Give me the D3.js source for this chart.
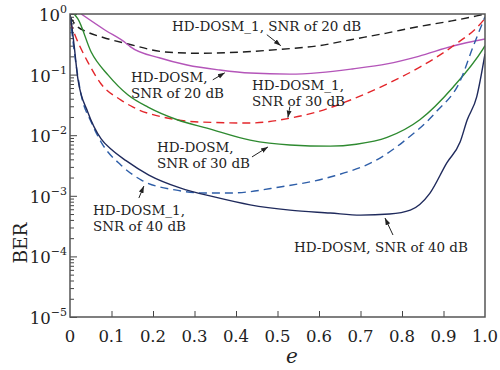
<!DOCTYPE html>
<html>
<head>
<meta charset="utf-8">
<script src="https://cdn.jsdelivr.net/npm/d3@7"></script>
<style>
body{margin:0;background:#fff;}
svg text{font-family:"DejaVu Serif","Liberation Serif",serif;fill:#222;}
</style>
</head>
<body>
<svg id="chart" width="500" height="370"></svg>
<script>
// values (e on x, BER on log y)
const eDosm1_20 = [0, 0.012, 0.043, 0.08, 0.14, 0.23, 0.31, 0.41, 0.51, 0.6, 0.68, 0.76, 0.84, 0.92, 0.98, 1.0];
const berDosm1_20 = [0.9, 0.68, 0.5, 0.41, 0.32, 0.236, 0.225, 0.235, 0.262, 0.3, 0.38, 0.48, 0.62, 0.77, 0.93, 1.0];

const eDosm_20 = [0.027, 0.084, 0.135, 0.145, 0.217, 0.282, 0.361, 0.434, 0.53, 0.602, 0.68, 0.764, 0.84, 0.923, 1.0];
const berDosm_20 = [1.0, 0.545, 0.33, 0.29, 0.188, 0.144, 0.119, 0.106, 0.102, 0.108, 0.124, 0.15, 0.2, 0.296, 0.386];

const eDosm1_30 = [0, 0.012, 0.043, 0.075, 0.123, 0.152, 0.234, 0.313, 0.434, 0.53, 0.602, 0.682, 0.764, 0.843, 0.923, 0.995, 1.0];
const berDosm1_30 = [0.75, 0.45, 0.161, 0.07, 0.038, 0.029, 0.0192, 0.0165, 0.0159, 0.0191, 0.025, 0.0396, 0.07, 0.133, 0.296, 0.77, 0.85];

const eDosm_30 = [0.01, 0.019, 0.051, 0.092, 0.14, 0.188, 0.26, 0.33, 0.434, 0.53, 0.627, 0.69, 0.764, 0.843, 0.923, 0.995, 1.0];
const berDosm_30 = [1.0, 0.83, 0.236, 0.098, 0.046, 0.029, 0.0178, 0.0131, 0.0083, 0.0069, 0.0066, 0.0071, 0.0092, 0.018, 0.062, 0.264, 0.3];

const eDosm1_40 = [0, 0.01, 0.027, 0.051, 0.075, 0.123, 0.173, 0.253, 0.325, 0.386, 0.506, 0.627, 0.747, 0.802, 0.884, 0.94, 0.971, 0.995, 1.0];
const berDosm1_40 = [0.95, 0.25, 0.046, 0.0166, 0.0077, 0.0032, 0.0018, 0.00125, 0.00111, 0.00111, 0.0014, 0.00204, 0.0042, 0.0077, 0.025, 0.078, 0.285, 0.74, 0.9];

const eDosm_40 = [0, 0.002, 0.01, 0.019, 0.043, 0.075, 0.1, 0.135, 0.19, 0.265, 0.35, 0.434, 0.53, 0.627, 0.7, 0.77, 0.82, 0.867, 0.908, 0.94, 0.957, 0.98, 1.0];
const berDosm_40 = [1.0, 0.83, 0.3, 0.085, 0.024, 0.0087, 0.0058, 0.0038, 0.0022, 0.00135, 0.00095, 0.00071, 0.00058, 0.00052, 0.00048, 0.0005, 0.00058, 0.0011, 0.0035, 0.0077, 0.0178, 0.043, 0.22];

const xTicks = [0, 0.1, 0.2, 0.3, 0.4, 0.5, 0.6, 0.7, 0.8, 0.9, 1.0];
const xTickLabels = ["0", "0.1", "0.2", "0.3", "0.4", "0.5", "0.6", "0.7", "0.8", "0.9", "1.0"];
const yExponents = [0, -1, -2, -3, -4, -5];

const series = [
	{e: eDosm1_20, ber: berDosm1_20, color: "#1e1e1e", dash: "8,5"},
	{e: eDosm_20, ber: berDosm_20, color: "#b455b9", dash: null},
	{e: eDosm1_30, ber: berDosm1_30, color: "#e3262b", dash: "8,5"},
	{e: eDosm_30, ber: berDosm_30, color: "#2e8a30", dash: null},
	{e: eDosm1_40, ber: berDosm1_40, color: "#2e5ea8", dash: "8,5"},
	{e: eDosm_40, ber: berDosm_40, color: "#1f2a5c", dash: null}
];

// annotations: arrow tip in data space, tail as offset in px
const notes = [
	{lines: ["HD-DOSM_1, SNR of 20 dB"], tx: 172, ty: 31, tip: [0.508, 0.30], off: [-14, -11]},
	{lines: ["HD-DOSM,", "SNR of 20 dB"], tx: 131, ty: 82, tip: [0.373, 0.107], off: [-12, 7]},
	{lines: ["HD-DOSM_1,", "SNR of 30 dB"], tx: 252, ty: 90, tip: [0.525, 0.0195], off: [2, -11]},
	{lines: ["HD-DOSM,", "SNR of 30 dB"], tx: 157, ty: 152, tip: [0.477, 0.0064], off: [-16, 10]},
	{lines: ["HD-DOSM_1,", "SNR of 40 dB"], tx: 93, ty: 215, tip: [0.178, 0.00145], off: [-5, 12]},
	{lines: ["HD-DOSM, SNR of 40 dB"], tx: 294, ty: 252, tip: [0.759, 0.00043], off: [8, 17]}
];

const margin = {left: 70, top: 14, right: 15, bottom: 53};
const W = 500, H = 370;
const svg = d3.select("#chart");

const x = d3.scaleLinear().domain([0, 1]).range([margin.left, W - margin.right]);
const y = d3.scaleLog().domain([1e-5, 1]).range([H - margin.bottom, margin.top]);

const defs = svg.append("defs");
defs.append("clipPath").attr("id", "plotclip")
	.append("rect")
	.attr("x", x(0)).attr("y", y(1))
	.attr("width", x(1) - x(0)).attr("height", y(1e-5) - y(1));

defs.append("marker")
	.attr("id", "head")
	.attr("viewBox", "0 0 10 10")
	.attr("refX", 10).attr("refY", 5)
	.attr("markerWidth", 7).attr("markerHeight", 7)
	.attr("markerUnits", "userSpaceOnUse")
	.attr("orient", "auto")
	.append("path").attr("d", "M0,1.5L10,5L0,8.5Z").attr("fill", "#222");

// y ticks (inward)
const majors = yExponents.map(k => Math.pow(10, k));
const minors = [];
yExponents.slice(1).forEach(k => {
	for (let m = 2; m <= 9; m++) minors.push(m * Math.pow(10, k));
});
svg.append("g")
	.attr("transform", `translate(${x(0)},0)`)
	.call(d3.axisLeft(y).tickValues(minors).tickSize(-4).tickFormat(""))
	.call(g => g.select(".domain").remove())
	.call(g => g.selectAll("line").attr("stroke", "#444"));
svg.append("g")
	.attr("transform", `translate(${x(0)},0)`)
	.call(d3.axisLeft(y).tickValues(majors).tickSize(-7).tickFormat(""))
	.call(g => g.select(".domain").remove())
	.call(g => g.selectAll("line").attr("stroke", "#444"));

// x ticks (inward)
svg.append("g")
	.attr("transform", `translate(0,${y(1e-5)})`)
	.call(d3.axisBottom(x).tickValues(xTicks.slice(1, -1)).tickSize(-6).tickFormat(""))
	.call(g => g.select(".domain").remove())
	.call(g => g.selectAll("line").attr("stroke", "#444"));

// curves
const line = d3.line()
	.x(d => x(d[0]))
	.y(d => y(d[1]))
	.curve(d3.curveMonotoneX);

svg.append("g").attr("clip-path", "url(#plotclip)")
	.selectAll("path")
	.data(series)
	.join("path")
	.attr("d", s => line(s.e.map((v, i) => [v, s.ber[i]])))
	.attr("fill", "none")
	.attr("stroke", s => s.color)
	.attr("stroke-width", 1.4)
	.attr("stroke-dasharray", s => s.dash);

// frame
svg.append("rect")
	.attr("x", x(0)).attr("y", y(1))
	.attr("width", x(1) - x(0)).attr("height", y(1e-5) - y(1))
	.attr("fill", "none").attr("stroke", "#555").attr("stroke-width", 1.5);

// y labels 10^k
const yl = svg.append("g").selectAll("text")
	.data(yExponents)
	.join("text")
	.attr("x", x(0) - 3)
	.attr("y", k => y(Math.pow(10, k)) + 7)
	.attr("text-anchor", "end")
	.style("font-size", "16.5px");
yl.append("tspan").text("10");
yl.append("tspan")
	.attr("dy", -8)
	.style("font-size", "11px")
	.text(k => k === 0 ? "0" : "\u2212" + (-k));

// x labels
svg.append("g").selectAll("text")
	.data(xTicks)
	.join("text")
	.attr("x", d => x(d))
	.attr("y", y(1e-5) + 25)
	.attr("text-anchor", "middle")
	.style("font-size", "16.5px")
	.text((d, i) => xTickLabels[i]);

// axis titles
svg.append("text")
	.attr("x", 292).attr("y", 363)
	.attr("text-anchor", "middle")
	.style("font-size", "20px").style("font-style", "italic")
	.text("e");
svg.append("text")
	.attr("transform", "translate(27,243) rotate(-90)")
	.attr("text-anchor", "middle")
	.style("font-size", "18.5px")
	.text("BER");

// annotations, one text per line
const ann = svg.append("g").selectAll("g")
	.data(notes)
	.join("g");
ann.selectAll("text")
	.data(d => d.lines.map((t, i) => ({t, x: d.tx, y: d.ty + i * 15.5})))
	.join("text")
	.attr("x", d => d.x)
	.attr("y", d => d.y)
	.style("font-size", "13.5px")
	.text(d => d.t);
ann.append("line")
	.attr("x1", d => x(d.tip[0]) + d.off[0])
	.attr("y1", d => y(d.tip[1]) + d.off[1])
	.attr("x2", d => x(d.tip[0]))
	.attr("y2", d => y(d.tip[1]))
	.attr("stroke", "#222")
	.attr("stroke-width", 1)
	.attr("marker-end", "url(#head)");
</script>
</body>
</html>
